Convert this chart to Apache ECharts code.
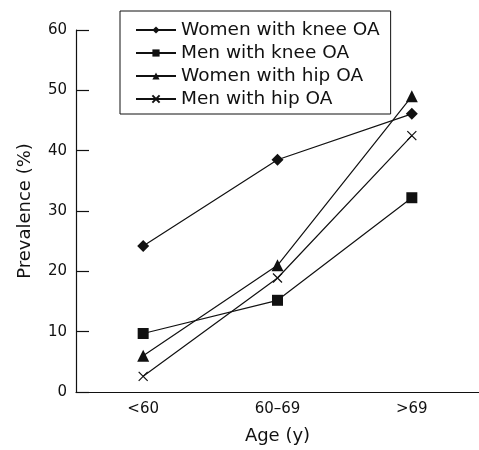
<!DOCTYPE html>
<html><head><meta charset="utf-8">
<script src="https://cdn.jsdelivr.net/npm/echarts@6/dist/echarts.min.js"></script>
<style>html,body{margin:0;padding:0;background:#fff}#c{width:479px;height:450px}</style>
</head><body><div id="c"></div>
<script>
const categories = ['<60', '60–69', '>69'];
const seriesNames = ['Women with knee OA', 'Men with knee OA', 'Women with hip OA', 'Men with hip OA'];
const womenKnee = [24.2, 38.5, 46.1];
const menKnee = [9.7, 15.2, 32.2];
const womenHip = [6.0, 21.0, 49.0];
const menHip = [2.6, 18.9, 42.5];
const yTicks = [0, 10, 20, 30, 40, 50, 60];

const FONT = 'DejaVu Sans';
const INK = '#111';
const symbols = ['diamond', 'rect', 'triangle', 'path://M0,0L10,10M10,0L0,10'];
const sizes = [12, 11, 12, 9];
const values = [womenKnee, menKnee, womenHip, menHip];

const chart = echarts.init(document.getElementById('c'), null, {renderer: 'canvas'});
chart.setOption({
  animation: false,
  backgroundColor: '#fff',
  textStyle: {fontFamily: FONT, color: INK},
  grid: {left: 76, right: -12, top: 30, bottom: 53, containLabel: false},
  legend: {
    orient: 'vertical',
    left: 120, top: 11,
    padding: [9, 11, 5, 15],
    borderColor: INK, borderWidth: 1,
    itemWidth: 40, itemHeight: 9, itemGap: 3,
    textStyle: {fontFamily: FONT, fontSize: 18.5, color: INK, lineHeight: 20},
    data: seriesNames
  },
  xAxis: {
    type: 'category',
    data: categories,
    boundaryGap: true,
    name: 'Age (y)', nameLocation: 'middle', nameGap: 35,
    nameTextStyle: {fontFamily: FONT, fontSize: 18, color: INK},
    axisLine: {lineStyle: {color: INK, width: 1.2}},
    axisTick: {inside: true, length: 15, lineStyle: {color: INK, width: 1.2}},
    axisLabel: {fontFamily: FONT, fontSize: 15, color: INK, margin: 10},
    splitLine: {show: false}
  },
  yAxis: {
    type: 'value', min: yTicks[0], max: yTicks[yTicks.length - 1], interval: 10,
    name: 'Prevalence (%)', nameLocation: 'middle', nameGap: 42, nameRotate: 90,
    nameTextStyle: {fontFamily: FONT, fontSize: 18, color: INK},
    axisLine: {show: true, lineStyle: {color: INK, width: 1.2}},
    axisTick: {show: true, inside: true, length: 13, lineStyle: {color: INK, width: 1.2}},
    axisLabel: {fontFamily: FONT, fontSize: 15, color: INK, margin: 9},
    splitLine: {show: false}
  },
  series: seriesNames.map((name, i) => ({
    name: name,
    type: 'line',
    data: values[i],
    symbol: symbols[i],
    symbolSize: sizes[i],
    showAllSymbol: true,
    lineStyle: {color: INK, width: 1.2},
    itemStyle: {color: INK, borderColor: INK, borderWidth: i === 3 ? 1.2 : 0},
    emphasis: {disabled: true}
  }))
});
</script></body></html>
